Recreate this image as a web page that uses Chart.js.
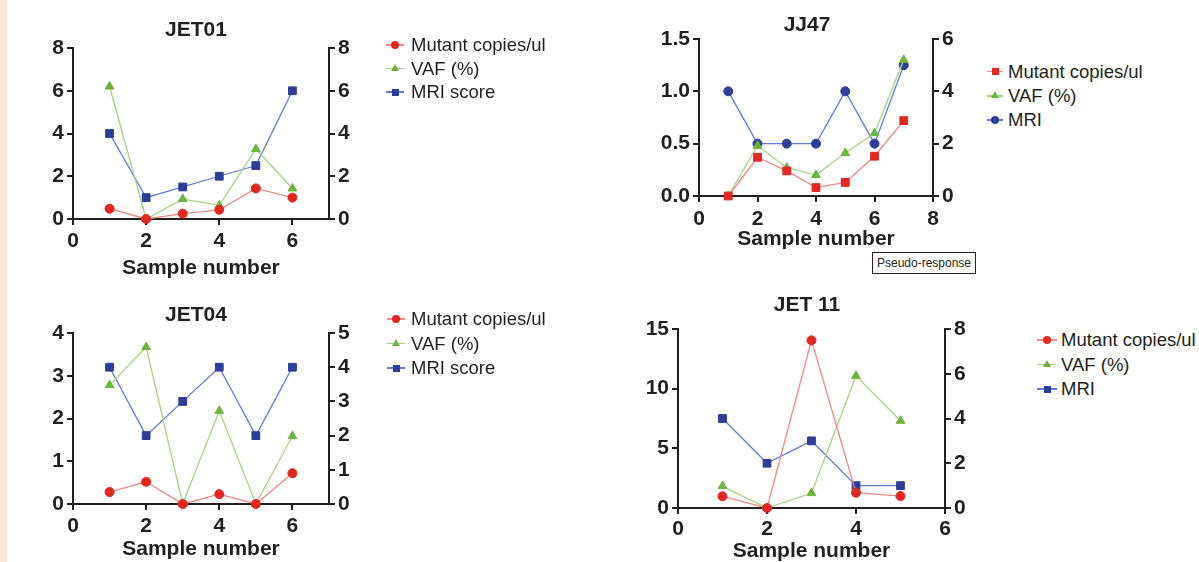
<!DOCTYPE html>
<html>
<head>
<meta charset="utf-8">
<script src="https://cdn.jsdelivr.net/npm/chart.js@4.4.0/dist/chart.umd.min.js"></script>
<style>
  body { margin: 0; width: 1199px; height: 562px; overflow: hidden; background: #fff; position: relative; font-family: "Liberation Sans", Arial, sans-serif; }
  .strip { position: absolute; left: 0; top: 0; width: 7px; height: 562px; background: #fde6da; }
  canvas { position: absolute; }
  .item { position: absolute; font-size: 18.5px; color: #231f20; white-space: nowrap; line-height: 24px; height: 24px; }
  .mk { position: absolute; left: 0; top: 12px; }
  .ln { position: absolute; top: -0.7px; height: 1.4px; }
  .tag { position: absolute; left: 872px; top: 252px; width: 102px; height: 20px; border: 1.5px solid #231f20; font-size: 12px; line-height: 20px; text-align: center; color: #231f20; }
</style>
</head>
<body>
<div class="strip"></div>
<div class="tag">Pseudo-response</div>
<script>
// JET01
const jet01Samples = [1, 2, 3, 4, 5, 6]
const jet01Mutant = [0.48, 0, 0.25, 0.43, 1.43, 1.0]
const jet01Vaf = [6.2, 0, 0.93, 0.64, 3.27, 1.43]
const jet01Mri = [4, 1, 1.5, 2, 2.5, 6]
const jet01XTicks = [0, 2, 4, 6]
const jet01LeftTicks = [0, 2, 4, 6, 8]
const jet01RightTicks = [0, 2, 4, 6, 8]

// JJ47
const jj47Samples = [1, 2, 3, 4, 5, 6, 7]
const jj47Mutant = [0, 0.37, 0.24, 0.08, 0.13, 0.38, 0.72]
const jj47Vaf = [0, 0.48, 0.27, 0.2, 0.41, 0.6, 1.3]
const jj47Mri = [4, 2, 2, 2, 4, 2, 5]
const jj47XTicks = [0, 2, 4, 6, 8]
const jj47LeftTicks = [0, 0.5, 1, 1.5]
const jj47LeftLabels = ['0.0', '0.5', '1.0', '1.5']
const jj47RightTicks = [0, 2, 4, 6]

// JET04
const jet04Samples = [1, 2, 3, 4, 5, 6]
const jet04Mutant = [0.28, 0.52, 0, 0.23, 0, 0.72]
const jet04Vaf = [2.78, 3.67, 0, 2.18, 0, 1.59]
const jet04Mri = [4, 2, 3, 4, 2, 4]
const jet04XTicks = [0, 2, 4, 6]
const jet04LeftTicks = [0, 1, 2, 3, 4]
const jet04RightTicks = [0, 1, 2, 3, 4, 5]

// JET 11
const jet11Samples = [1, 2, 3, 4, 5]
const jet11Mutant = [0.98, 0, 14.05, 1.28, 1.0]
const jet11Vaf = [1.84, 0, 1.25, 11.07, 7.31]
const jet11Mri = [4, 2, 3, 1, 1]
const jet11XTicks = [0, 2, 4, 6]
const jet11LeftTicks = [0, 5, 10, 15]
const jet11RightTicks = [0, 2, 4, 6, 8]

const namesScore = ['Mutant copies/ul', 'VAF (%)', 'MRI score']
const namesShort = ['Mutant copies/ul', 'VAF (%)', 'MRI']

const INK = '#231f20'
const RED = { point: '#e3261f', line: '#ef8a84' }
const GREEN = { point: '#6bb43f', line: '#a5d580' }
const BLUE = { point: '#2e3d98', line: '#5d7fd6' }
const RADIUS = { circle: 4.5, triangle: 5, rect: 5.5 }

function drawLegend(lg, names, looks) {
    names.forEach((name, i) => {
        const look = looks[i]
        const item = document.createElement('div')
        item.className = 'item'
        item.style.left = lg.x + 'px'
        item.style.top = (lg.y - 12 + i * lg.gap) + 'px'
        item.style.paddingLeft = (lg.textX - lg.x) + 'px'
        const mk = document.createElement('div')
        mk.className = 'mk'
        const ln = document.createElement('div')
        ln.className = 'ln'
        ln.style.left = '0px'
        ln.style.width = lg.w + 'px'
        ln.style.background = look.color.line
        mk.appendChild(ln)
        const sh = document.createElement('div')
        sh.style.position = 'absolute'
        const c = lg.w / 2
        if (look.style === 'circle') {
            Object.assign(sh.style, { left: (c - 4) + 'px', top: '-4px', width: '8px', height: '8px', borderRadius: '50%', background: look.color.point })
        } else if (look.style === 'rect') {
            Object.assign(sh.style, { left: (c - 3.5) + 'px', top: '-3.5px', width: '7px', height: '7px', background: look.color.point })
        } else {
            Object.assign(sh.style, { left: (c - 4) + 'px', top: '-4.5px', width: '0px', height: '0px', borderLeft: '4px solid transparent', borderRight: '4px solid transparent', borderBottom: '7px solid ' + look.color.point })
        }
        mk.appendChild(sh)
        item.appendChild(mk)
        item.appendChild(document.createTextNode(name))
        document.body.appendChild(item)
    })
}

function drawPanel(p) {
    const canvas = document.createElement('canvas')
    canvas.width = p.box.w
    canvas.height = p.box.h
    canvas.style.left = p.box.x + 'px'
    canvas.style.top = p.box.y + 'px'
    document.body.appendChild(canvas)

    const bold = { family: '"Liberation Sans", Arial, sans-serif', size: 21, weight: 'bold', lineHeight: 1.2 }
    const half = 12.6
    const titleTop = p.titleY - p.box.y - half
    const titleBottom = p.area.top - p.box.y - 2 * half - titleTop
    const xTitleBottom = p.box.y + p.box.h - p.xTitleY - half

    const datasets = p.series.map((s, i) => ({
        label: p.names[i],
        data: p.samples.map((x, j) => ({ x: x, y: s.values[j] })),
        yAxisID: s.axis,
        borderColor: s.look.color.line,
        borderWidth: 1.3,
        pointStyle: s.look.style,
        pointRadius: RADIUS[s.look.style],
        pointBackgroundColor: s.look.color.point,
        pointBorderColor: s.look.color.point,
        pointBorderWidth: 1,
        tension: 0,
        clip: false
    }))

    const axisLook = {
        grid: { display: true, drawOnChartArea: false, drawTicks: true, tickLength: 6, color: INK, lineWidth: 2 },
        border: { display: true, color: INK, width: 2 }
    }

    new Chart(canvas.getContext('2d'), {
        type: 'line',
        data: { datasets: datasets },
        options: {
            responsive: false,
            animation: false,
            events: [],
            plugins: {
                legend: { display: false },
                tooltip: { enabled: false },
                title: {
                    display: true,
                    text: p.title,
                    color: INK,
                    font: bold,
                    padding: { top: titleTop, bottom: titleBottom }
                }
            },
            scales: {
                x: {
                    type: 'linear',
                    position: 'bottom',
                    min: 0,
                    max: p.xMax,
                    afterBuildTicks: s => { s.ticks = p.xTicks.map(v => ({ value: v })) },
                    afterFit: s => { s.height = p.box.y + p.box.h - p.area.bottom },
                    ticks: { color: INK, font: bold, padding: p.xTickPad, maxRotation: 0 },
                    title: { display: true, text: 'Sample number', color: INK, font: bold, padding: { top: 0, bottom: xTitleBottom } },
                    ...axisLook
                },
                y: {
                    position: 'left',
                    min: 0,
                    max: p.leftTicks[p.leftTicks.length - 1],
                    afterBuildTicks: s => { s.ticks = p.leftTicks.map(v => ({ value: v })) },
                    afterFit: s => { s.width = p.area.left - p.box.x },
                    ticks: {
                        color: INK, font: bold, padding: 3,
                        callback: (v, i) => p.leftLabels ? p.leftLabels[i] : v
                    },
                    ...axisLook
                },
                y1: {
                    position: 'right',
                    min: 0,
                    max: p.rightTicks[p.rightTicks.length - 1],
                    afterBuildTicks: s => { s.ticks = p.rightTicks.map(v => ({ value: v })) },
                    afterFit: s => { s.width = p.box.x + p.box.w - p.area.right },
                    ticks: { color: INK, font: bold, padding: 3 },
                    ...axisLook
                }
            }
        }
    })

    drawLegend(p.legend, p.names, p.series.map(s => s.look))
}

const circleRed = { style: 'circle', color: RED }
const rectRed = { style: 'rect', color: RED }
const triGreen = { style: 'triangle', color: GREEN }
const rectBlue = { style: 'rect', color: BLUE }
const circleBlue = { style: 'circle', color: BLUE }

drawPanel({
    title: 'JET01',
    box: { x: 0, y: 0, w: 392, h: 285 },
    area: { left: 73, right: 329, top: 48, bottom: 219 },
    titleY: 30, xTitleY: 268, xTickPad: 4, xMax: 7,
    samples: jet01Samples,
    xTicks: jet01XTicks, leftTicks: jet01LeftTicks, rightTicks: jet01RightTicks,
    names: namesScore,
    series: [
        { values: jet01Mutant, axis: 'y', look: circleRed },
        { values: jet01Vaf, axis: 'y', look: triGreen },
        { values: jet01Mri, axis: 'y1', look: rectBlue }
    ],
    legend: { x: 386, y: 45, gap: 23.5, w: 18, textX: 411 }
})

drawPanel({
    title: 'JJ47',
    box: { x: 640, y: 0, w: 334, h: 260 },
    area: { left: 699, right: 933, top: 39, bottom: 196 },
    titleY: 25, xTitleY: 239, xTickPad: 5, xMax: 8,
    samples: jj47Samples,
    xTicks: jj47XTicks, leftTicks: jj47LeftTicks, leftLabels: jj47LeftLabels, rightTicks: jj47RightTicks,
    names: namesShort,
    series: [
        { values: jj47Mutant, axis: 'y', look: rectRed },
        { values: jj47Vaf, axis: 'y', look: triGreen },
        { values: jj47Mri, axis: 'y1', look: circleBlue }
    ],
    legend: { x: 987, y: 71.5, gap: 24.3, w: 16, textX: 1008 }
})

drawPanel({
    title: 'JET04',
    box: { x: 0, y: 290, w: 392, h: 272 },
    area: { left: 73, right: 329, top: 333, bottom: 504 },
    titleY: 315, xTitleY: 549, xTickPad: 4, xMax: 7,
    samples: jet04Samples,
    xTicks: jet04XTicks, leftTicks: jet04LeftTicks, rightTicks: jet04RightTicks,
    names: namesScore,
    series: [
        { values: jet04Mutant, axis: 'y', look: circleRed },
        { values: jet04Vaf, axis: 'y', look: triGreen },
        { values: jet04Mri, axis: 'y1', look: rectBlue }
    ],
    legend: { x: 387, y: 319, gap: 24.5, w: 18, textX: 411 }
})

drawPanel({
    title: 'JET 11',
    box: { x: 640, y: 290, w: 334, h: 282 },
    area: { left: 678, right: 945, top: 329, bottom: 508 },
    titleY: 305, xTitleY: 551.5, xTickPad: 2.5, xMax: 6,
    samples: jet11Samples,
    xTicks: jet11XTicks, leftTicks: jet11LeftTicks, rightTicks: jet11RightTicks,
    names: namesShort,
    series: [
        { values: jet11Mutant, axis: 'y', look: circleRed },
        { values: jet11Vaf, axis: 'y', look: triGreen },
        { values: jet11Mri, axis: 'y1', look: rectBlue }
    ],
    legend: { x: 1037, y: 340, gap: 24.5, w: 20, textX: 1061 }
})
</script>
</body>
</html>
